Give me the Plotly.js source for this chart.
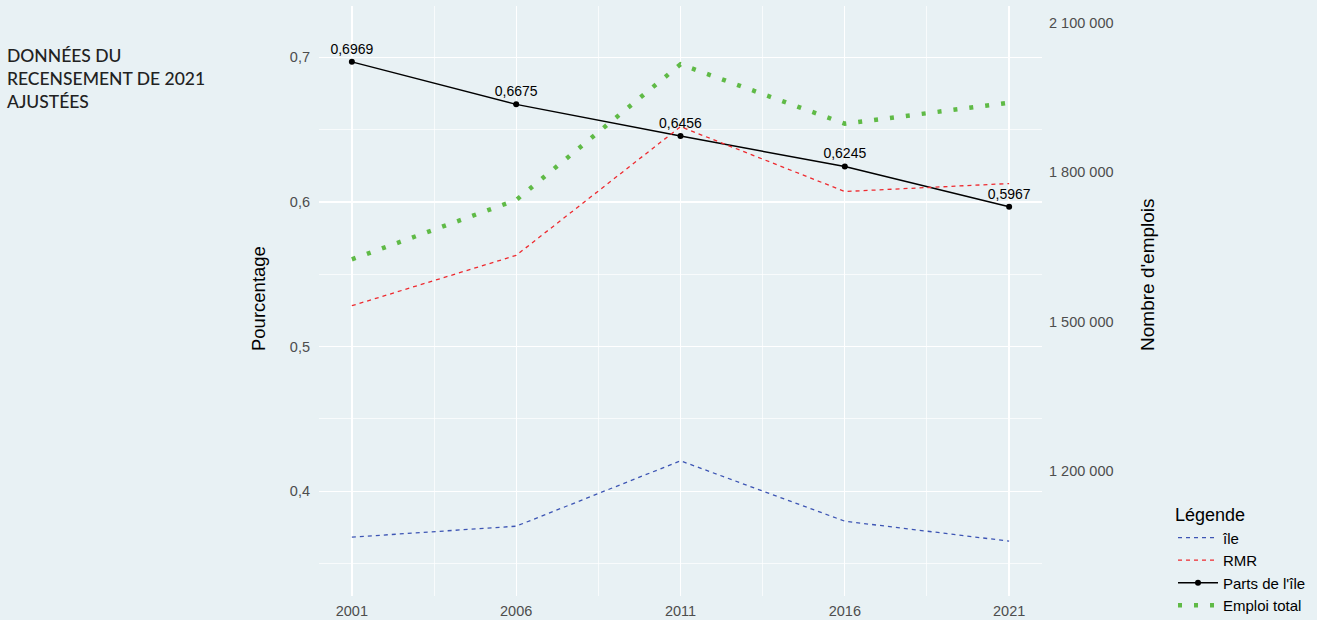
<!DOCTYPE html>
<html>
<head>
<meta charset="utf-8">
<script src="https://cdn.plot.ly/plotly-3.0.1.min.js"></script>
<style>
html,body{margin:0;padding:0;background:#e8f1f4;}
#chart{width:1317px;height:620px;}
</style>
</head>
<body>
<div id="chart"></div>
<script>
// Data
const years = [2001, 2006, 2011, 2016, 2021];
const emploisIle = [1068000, 1090000, 1221000, 1100000, 1060000];
const emploisRMR = [1532000, 1633000, 1891000, 1761000, 1777000];
const partsIle = [0.6969, 0.6675, 0.6456, 0.6245, 0.5967];
const emploiTotal = [1625000, 1744000, 2016000, 1897000, 1939000];

const titleLines = ["DONNÉES DU", "RECENSEMENT DE 2021", "AJUSTÉES"];
const leftTitle = "Pourcentage";
const rightTitle = "Nombre d'emplois";
const leftTicks = [0.4, 0.5, 0.6, 0.7];
const rightTicks = [1200000, 1500000, 1800000, 2100000];

const bg = "#e8f1f4";
const font = "'Liberation Sans', Arial, sans-serif";

const traces = [
  {x: years, y: emploisIle, name: "île", yaxis: "y2", mode: "lines",
   line: {color: "#3d55b4", width: 1.3, dash: "4px,4px"}},
  {x: years, y: emploisRMR, name: "RMR", yaxis: "y2", mode: "lines",
   line: {color: "#ee2a2f", width: 1.3, dash: "4px,4px"}},
  {x: years, y: partsIle, name: "Parts de l'île", yaxis: "y", mode: "lines+markers+text",
   line: {color: "#000000", width: 1.4},
   marker: {color: "#000000", size: 6},
   text: partsIle.map(v => v.toFixed(4).replace(".", ",")),
   textposition: "top center",
   textfont: {family: font, size: 14, color: "#000000"}},
  {x: years, y: emploiTotal, name: "Emploi total", yaxis: "y2", mode: "lines",
   line: {color: "#5fba46", width: 4.5, dash: "4px,12px"}}
];

const yL = [0.3276, 0.7355];
const factor = 2900000;

const layout = {
  width: 1317, height: 620,
  paper_bgcolor: bg, plot_bgcolor: bg,
  separators: ", ",
  margin: {l: 319, r: 275, t: 6, b: 24, autoexpand: false},
  font: {family: font, size: 14, color: "#4d4d4d"},
  xaxis: {
    range: [2000, 2022], tickvals: years, ticktext: years.map(String),
    showgrid: true, gridcolor: "#ffffff", gridwidth: 1.3,
    minor: {dtick: 2.5, tick0: 2001, showgrid: true, gridcolor: "#ffffff", gridwidth: 0.7},
    zeroline: false, showline: false, ticks: "", ticklabelstandoff: 4,
    tickfont: {size: 14.5, color: "#4d4d4d"}
  },
  yaxis: {
    range: yL, tickvals: leftTicks, tickformat: ".1f",
    showgrid: true, gridcolor: "#ffffff", gridwidth: 1.3,
    minor: {dtick: 0.05, tick0: 0.35, showgrid: true, gridcolor: "#ffffff", gridwidth: 0.7},
    zeroline: false, showline: false, ticks: "", ticklabelstandoff: 8,
    tickfont: {size: 14.5, color: "#4d4d4d"}
  },
  yaxis2: {
    overlaying: "y", side: "right",
    range: [yL[0] * factor, yL[1] * factor], tickvals: rightTicks, tickformat: ",d",
    showgrid: false, zeroline: false, showline: false, ticks: "", ticklabelstandoff: 6,
    tickfont: {size: 14.5, color: "#4d4d4d"}
  },
  legend: {
    x: 1.1812, xanchor: "left", y: 0.166, yanchor: "top",
    bgcolor: "rgba(0,0,0,0)", font: {size: 15, color: "#000000"},
    title: {text: "Légende", font: {size: 18, color: "#000000"}},
    itemwidth: 40, tracegroupgap: 0
  },
  annotations: [{
    xref: "paper", yref: "paper", x: -0.434, y: 0.938, xanchor: "left", yanchor: "top",
    align: "left", showarrow: false,
    text: titleLines.join("<br>"),
    font: {family: "Lato, sans-serif", size: 17.5, color: "#222222", weight: 500}
  }, {
    xref: "paper", yref: "paper", x: -0.0844, y: 0.505, xanchor: "center", yanchor: "middle",
    showarrow: false, textangle: -90, text: leftTitle,
    font: {size: 18.5, color: "#000000"}
  }, {
    xref: "paper", yref: "paper", x: 1.1466, y: 0.5458, xanchor: "center", yanchor: "middle",
    showarrow: false, textangle: -90, text: rightTitle,
    font: {size: 19, color: "#000000"}
  }]
};

Plotly.newPlot("chart", traces, layout, {displayModeBar: false, staticPlot: true});
</script>
</body>
</html>
